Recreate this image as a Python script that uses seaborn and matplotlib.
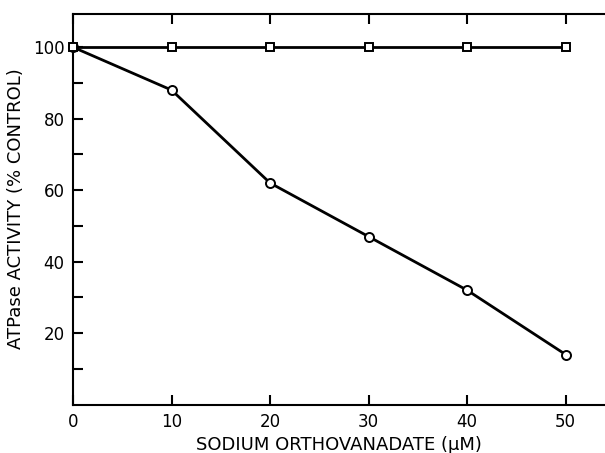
import matplotlib
matplotlib.use("Agg")
import matplotlib.pyplot as plt
import seaborn as sns
import pandas as pd
from matplotlib.ticker import FixedLocator

# Data
vanadate_uM = [0, 10, 20, 30, 40, 50]
control_pct = [100, 100, 100, 100, 100, 100]
treated_pct = [100, 88, 62, 47, 32, 14]
x_ticks = [0, 10, 20, 30, 40, 50]
y_ticks = [20, 40, 60, 80, 100]

sns.set_theme(style="ticks")
plt.rcParams['font.family'] = ['DejaVu Sans']

fig = plt.figure(figsize=(6.05, 4.53), dpi=100)
ax = fig.add_axes([0.1207, 0.107, 1.0 - 0.1207, 0.863])

df_c = pd.DataFrame({"x": vanadate_uM, "y": control_pct})
df_t = pd.DataFrame({"x": vanadate_uM, "y": treated_pct})

sns.lineplot(data=df_t, x="x", y="y", ax=ax, color="black", linewidth=2,
             marker="o", markersize=6.5, markerfacecolor="white",
             markeredgecolor="black", markeredgewidth=1.4, zorder=3,
             clip_on=False)
sns.lineplot(data=df_c, x="x", y="y", ax=ax, color="black", linewidth=2,
             marker="s", markersize=6, markerfacecolor="white",
             markeredgecolor="black", markeredgewidth=1.4, zorder=4,
             clip_on=False)

ax.set_xlim(0, 54.0)
ax.set_ylim(0, 109.4)

ax.set_xticks(x_ticks)
ax.set_xticklabels([str(v) for v in x_ticks])
ax.set_yticks(y_ticks)
ax.set_yticklabels([str(v) for v in y_ticks])
ax.yaxis.set_minor_locator(FixedLocator([10, 30, 50, 70, 90]))

ax.tick_params(axis="both", which="both", direction="in", length=7, width=1.5,
               colors="black", labelsize=12, pad=6)
ax.tick_params(axis="x", top=True, labeltop=False)
ax.tick_params(axis="y", which="both", right=False)

for side in ["left", "bottom", "top"]:
    ax.spines[side].set_linewidth(1.5)
    ax.spines[side].set_color("black")
ax.spines["right"].set_visible(False)

ax.set_xlabel("SODIUM ORTHOVANADATE (\u03bcM)", fontsize=13, color="black", labelpad=4)
ax.set_ylabel("ATPase ACTIVITY (% CONTROL)", fontsize=13, color="black", labelpad=6)

fig.savefig("out.png", dpi=100)
